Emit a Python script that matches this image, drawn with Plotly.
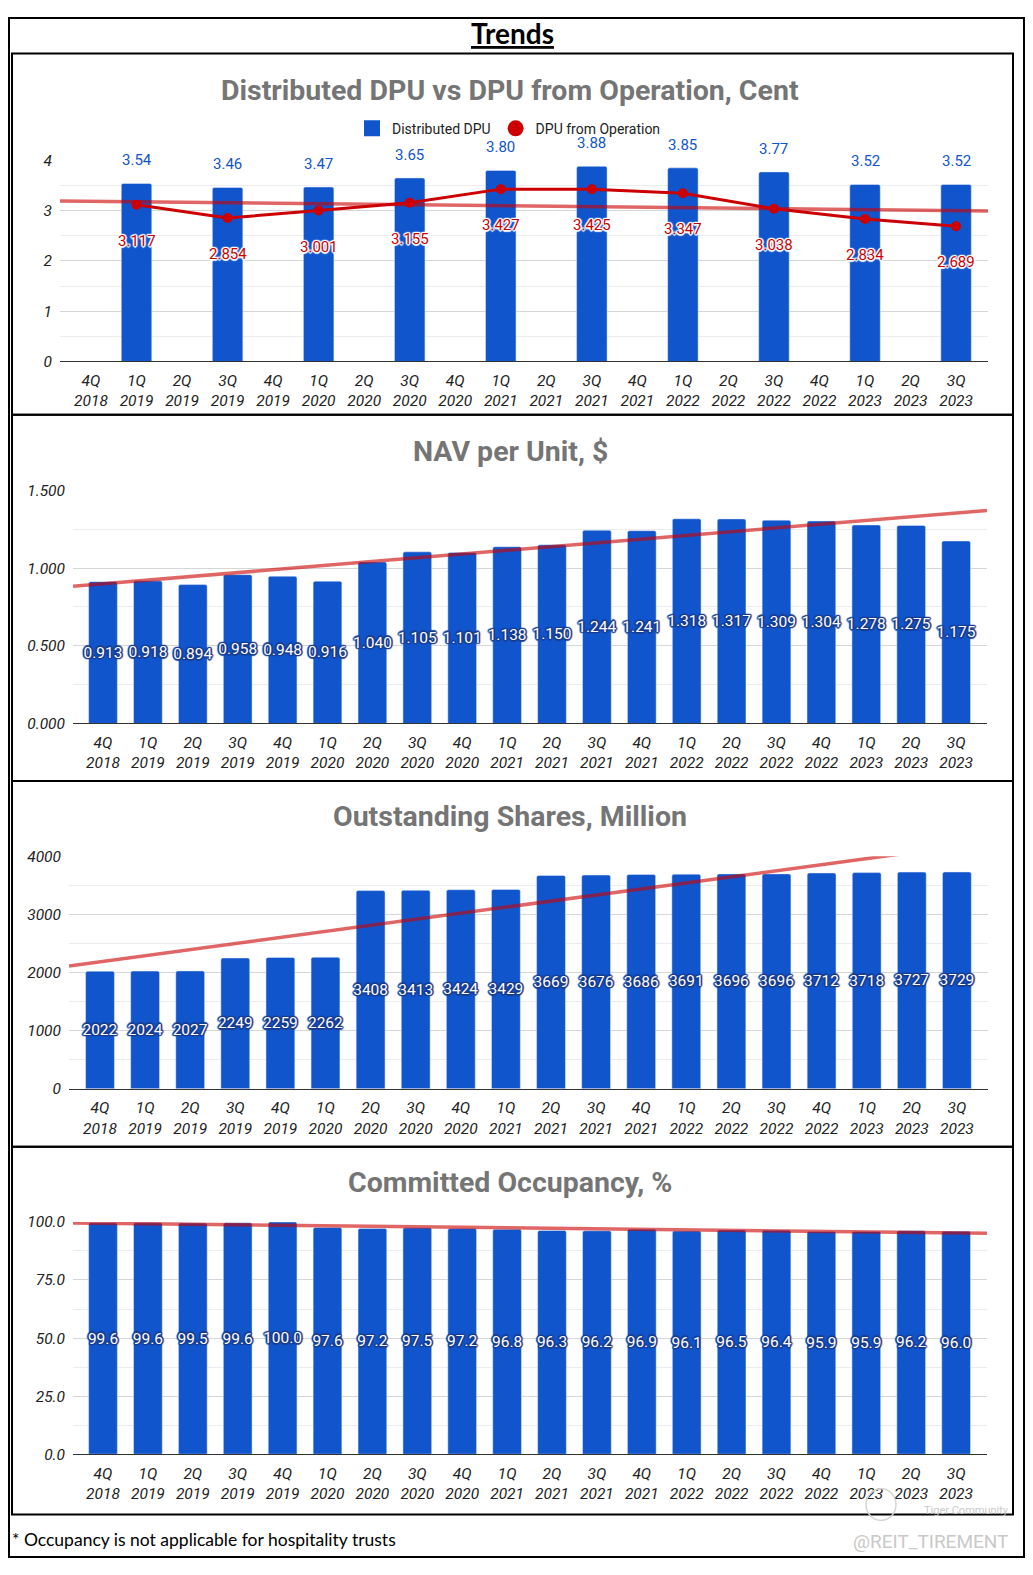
import numpy as np
import plotly.graph_objects as go

# The page keeps the browser's default 8px body margin, so the figure is
# sized to fill the 1033x1575 window exactly inside that margin.
WIN_W, WIN_H, OFF = 1033, 1575, 8
W, H = WIN_W - 2 * OFF, WIN_H - 2 * OFF

# ---------------- data ----------------
quarters = ["4Q 2018", "1Q 2019", "2Q 2019", "3Q 2019", "4Q 2019", "1Q 2020", "2Q 2020",
            "3Q 2020", "4Q 2020", "1Q 2021", "2Q 2021", "3Q 2021", "4Q 2021", "1Q 2022",
            "2Q 2022", "3Q 2022", "4Q 2022", "1Q 2023", "2Q 2023", "3Q 2023"]

dpu_quarters = ["1Q 2019", "3Q 2019", "1Q 2020", "3Q 2020", "1Q 2021", "3Q 2021",
                "1Q 2022", "3Q 2022", "1Q 2023", "3Q 2023"]
distributed_dpu = [3.54, 3.46, 3.47, 3.65, 3.80, 3.88, 3.85, 3.77, 3.52, 3.52]
dpu_from_operation = [3.117, 2.854, 3.001, 3.155, 3.427, 3.425, 3.347, 3.038, 2.834, 2.689]

nav_per_unit = [0.913, 0.918, 0.894, 0.958, 0.948, 0.916, 1.040, 1.105, 1.101, 1.138,
                1.150, 1.244, 1.241, 1.318, 1.317, 1.309, 1.304, 1.278, 1.275, 1.175]

outstanding_shares = [2022, 2024, 2027, 2249, 2259, 2262, 3408, 3413, 3424, 3429,
                      3669, 3676, 3686, 3691, 3696, 3696, 3712, 3718, 3727, 3729]

committed_occupancy = [99.6, 99.6, 99.5, 99.6, 100.0, 97.6, 97.2, 97.5, 97.2, 96.8,
                       96.3, 96.2, 96.9, 96.1, 96.5, 96.4, 95.9, 95.9, 96.2, 96.0]

panel_titles = ["Distributed DPU vs DPU from Operation, Cent", "NAV per Unit, $",
                "Outstanding Shares, Million", "Committed Occupancy, %"]
series_names = ["Distributed DPU", "DPU from Operation"]
page_title = "Trends"
footnote = "* Occupancy is not applicable for hospitality trusts"
watermark = "@REIT_TIREMENT"
watermark2 = "Tiger Community"


# ---------------- styling / layout helpers ----------------
def fx(px):
    return (px - OFF) / W


def fy(py):
    return 1 - (py - OFF) / H


BLUE = "#1155cc"
RED = "#cc0000"
TREND = "rgba(204,0,0,0.6)"
GRID = "#d6d6d6"
MINOR = "#ececec"
OUTLINE = "#1b3c8c"
tick_labels = [q.replace(" ", "<br>") for q in quarters]
idx = list(range(len(quarters)))


def halo(c):
    offs = [(1.5, 0), (-1.5, 0), (0, 1.5), (0, -1.5), (1, 1), (-1, -1), (1, -1), (-1, 1)]
    return ", ".join("%gpx %gpx 1px %s" % (a, b, c) for a, b in offs)


panels = [
    dict(x=(60, 988), y=(153, 356.5), c0=91, w=45.53, yr=(0, 4), dtick=1, minor=0.5, fmt="d"),
    dict(x=(73, 987), y=(487, 722.7), c0=103, w=44.9, yr=(0, 1.5), dtick=0.5, minor=0.25, fmt=".3f"),
    dict(x=(69, 988), y=(857, 1092.3), c0=100, w=45.1, yr=(0, 4000), dtick=1000, minor=500, fmt="d"),
    dict(x=(73, 987), y=(1227, 1462), c0=103, w=44.9, yr=(0, 100), dtick=25, minor=12.5, fmt=".1f"),
]
for p in panels:
    p["xr"] = ((p["x"][0] - p["c0"]) / p["w"], (p["x"][1] - p["c0"]) / p["w"])

fig = go.Figure()
layout = dict(width=W, height=H, margin=dict(l=0, r=0, t=0, b=0),
              paper_bgcolor="white", plot_bgcolor="white", barcornerradius=2,
              font=dict(family="Roboto", color="#222222"))

for i, p in enumerate(panels, start=1):
    sfx = "" if i == 1 else str(i)
    layout["xaxis" + sfx] = dict(
        domain=[fx(p["x"][0]), fx(p["x"][1])], range=list(p["xr"]),
        anchor="y" + sfx, tickmode="array", tickvals=idx, ticktext=tick_labels,
        showgrid=False, zeroline=False, showline=True, linecolor="#333333", linewidth=1.2,
        ticks="", ticklabelstandoff=5,
        tickfont=dict(family="Roboto", size=15.5, color="#222222", style="italic"),
        fixedrange=True)
    layout["yaxis" + sfx] = dict(
        domain=[fy(p["y"][1]), fy(p["y"][0])], range=list(p["yr"]), anchor="x" + sfx,
        dtick=p["dtick"], tick0=0, tickformat=p["fmt"], showgrid=True, gridcolor=GRID,
        gridwidth=1, zeroline=False, ticks="", ticklabelstandoff=7,
        minor=dict(dtick=p["minor"], tick0=0, showgrid=True, gridcolor=MINOR, gridwidth=1),
        tickfont=dict(family="Roboto", size=15.5, color="#222222", style="italic"),
        fixedrange=True)


def trend(xs, ys, xr):
    a, b = np.polyfit(xs, ys, 1)
    return [xr[0], xr[1]], [a * xr[0] + b, a * xr[1] + b]


# ---------------- panel 1 ----------------
dpu_idx = [quarters.index(q) for q in dpu_quarters]
fig.add_trace(go.Bar(x=dpu_idx, y=distributed_dpu, width=0.67, marker_color=BLUE,
                     xaxis="x", yaxis="y", showlegend=False, hoverinfo="skip"))
tx, ty = trend(dpu_idx, dpu_from_operation, panels[0]["xr"])
fig.add_trace(go.Scatter(x=tx, y=ty, mode="lines", line=dict(color=TREND, width=3.5),
                         xaxis="x", yaxis="y", showlegend=False, hoverinfo="skip"))
fig.add_trace(go.Scatter(x=dpu_idx, y=dpu_from_operation, mode="lines+markers",
                         line=dict(color=RED, width=3), marker=dict(color=RED, size=10),
                         xaxis="x", yaxis="y", showlegend=False, hoverinfo="skip"))
# legend proxies
fig.add_trace(go.Scatter(x=[None], y=[None], mode="markers", name=series_names[0],
                         marker=dict(symbol="square", color=BLUE, size=16),
                         xaxis="x", yaxis="y"))
fig.add_trace(go.Scatter(x=[None], y=[None], mode="markers", name=series_names[1],
                         marker=dict(symbol="circle", color=RED, size=16),
                         xaxis="x", yaxis="y"))

# ---------------- panels 2-4 ----------------
bar_series = [(nav_per_unit, "%{y:.3f}"), (outstanding_shares, "%{y:d}"),
              (committed_occupancy, "%{y:.1f}")]
for k, (vals, tmpl) in enumerate(bar_series, start=2):
    xa, ya = "x" + str(k), "y" + str(k)
    fig.add_trace(go.Bar(
        x=idx, y=vals, width=0.64, marker_color=BLUE, xaxis=xa, yaxis=ya,
        texttemplate=tmpl, textposition="inside", insidetextanchor="middle",
        constraintext="none", textangle=0,
        insidetextfont=dict(family="Roboto", size=15.5, color="white", shadow=halo(OUTLINE)),
        showlegend=False, hoverinfo="skip"))
    tx, ty = trend(idx, vals, panels[k - 1]["xr"])
    fig.add_trace(go.Scatter(x=tx, y=ty, mode="lines", line=dict(color=TREND, width=3.5),
                             xaxis=xa, yaxis=ya, showlegend=False, hoverinfo="skip"))

# ---------------- annotations ----------------
ann = []
ann.append(dict(text="<b><u>%s</u></b>" % page_title, x=fx(512), y=fy(24), xref="paper",
                yref="paper", showarrow=False, xanchor="center", yanchor="middle",
                font=dict(family="Lato", size=28, color="black")))
title_y = [82, 448, 817, 1187]
for t, ty_ in zip(panel_titles, title_y):
    ann.append(dict(text="<b>%s</b>" % t, x=fx(510), y=fy(ty_), xref="paper", yref="paper",
                    showarrow=False, xanchor="center", yanchor="middle",
                    font=dict(family="Roboto", size=28.5, color="#757575")))
for xi, v in zip(dpu_idx, distributed_dpu):
    ann.append(dict(text="%.2f" % v, x=xi, y=v, xref="x", yref="y", showarrow=False,
                    yshift=23, xanchor="center", yanchor="middle",
                    font=dict(family="Roboto", size=15, color=BLUE)))
for xi, v in zip(dpu_idx, dpu_from_operation):
    ann.append(dict(text="%.3f" % v, x=xi, y=v, xref="x", yref="y", showarrow=False,
                    yshift=-36, xanchor="center", yanchor="middle",
                    font=dict(family="Roboto", size=15, color=RED, shadow=halo("white"))))
ann.append(dict(text=footnote, x=fx(10), y=fy(1548), xref="paper", yref="paper",
                showarrow=False, xanchor="left", yanchor="middle",
                font=dict(family="Lato", size=17.5, color="black")))
ann.append(dict(text=watermark, x=fx(1010), y=fy(1550), xref="paper", yref="paper",
                showarrow=False, xanchor="right", yanchor="middle",
                font=dict(family="Liberation Sans Narrow, Roboto", size=19, color="#c9c9c9")))
ann.append(dict(text=watermark2, x=fx(1010), y=fy(1519), xref="paper", yref="paper",
                showarrow=False, xanchor="right", yanchor="middle", borderpad=0,
                font=dict(family="Liberation Sans Narrow, Roboto", size=11, color="#c9c9c9")))
layout["annotations"] = ann

# ---------------- borders ----------------
shapes = [dict(type="rect", xref="paper", yref="paper", x0=fx(9), x1=fx(1024),
               y0=fy(1566), y1=fy(9), line=dict(color="black", width=2))]
panel_edges = [45, 410.5, 781, 1151, 1523]
for top, bot in zip(panel_edges[:-1], panel_edges[1:]):
    shapes.append(dict(type="rect", xref="paper", yref="paper", x0=fx(12), x1=fx(1013),
                       y0=fy(bot), y1=fy(top), line=dict(color="black", width=2)))
shapes.append(dict(type="circle", xref="paper", yref="paper", x0=fx(866), x1=fx(896),
                   y0=fy(1529), y1=fy(1497), line=dict(color="#d5d5d5", width=1.5)))
layout["shapes"] = shapes

layout["legend"] = dict(orientation="h", x=fx(509), xanchor="center", y=fy(121),
                        yanchor="middle", font=dict(family="Roboto", size=14, color="#222222"),
                        bgcolor="rgba(0,0,0,0)", itemclick=False, itemdoubleclick=False)

fig.update_layout(**layout)
fig.write_html("out.html", config={"displayModeBar": False})
